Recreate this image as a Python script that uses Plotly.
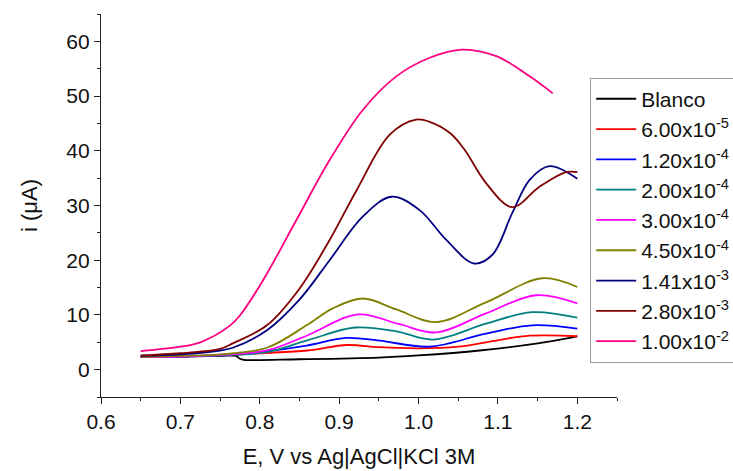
import plotly.graph_objects as go

# Data
names = ["Blanco", "6.00x10<sup>-5</sup>", "1.20x10<sup>-4</sup>", "2.00x10<sup>-4</sup>",
         "3.00x10<sup>-4</sup>", "4.50x10<sup>-4</sup>", "1.41x10<sup>-3</sup>",
         "2.80x10<sup>-3</sup>", "1.00x10<sup>-2</sup>"]
colors = ["#000000", "#FF0000", "#0000FF", "#008080", "#FF00FF", "#808000",
          "#000080", "#800000", "#FF0080"]

x_blanco = [0.65, 0.70, 0.75, 0.77, 0.775, 0.78, 0.85, 0.95, 1.0, 1.077, 1.15, 1.2]
y_blanco = [2.3, 2.4, 2.5, 2.5, 2.0, 1.8, 1.9, 2.2, 2.6, 3.5, 4.8, 6.1]

x_6e5 = [0.65, 0.70, 0.75, 0.80, 0.86, 0.91, 0.95, 1.0, 1.05, 1.085, 1.14, 1.2]
y_6e5 = [2.3, 2.4, 2.6, 3.0, 3.5, 4.5, 4.1, 3.9, 4.2, 5.0, 6.2, 6.1]

x_12e4 = [0.65, 0.70, 0.75, 0.80, 0.859, 0.909, 0.951, 1.014, 1.085, 1.143, 1.2]
y_12e4 = [2.3, 2.4, 2.6, 3.2, 4.4, 5.8, 5.3, 4.2, 6.6, 8.1, 7.5]

x_2e4 = [0.65, 0.70, 0.75, 0.809, 0.859, 0.92, 0.972, 1.018, 1.085, 1.143, 1.2]
y_2e4 = [2.3, 2.4, 2.6, 3.2, 5.3, 7.7, 7.0, 5.5, 8.4, 10.5, 9.5]

x_3e4 = [0.65, 0.70, 0.75, 0.809, 0.859, 0.924, 0.976, 1.022, 1.085, 1.148, 1.2]
y_3e4 = [2.3, 2.4, 2.7, 3.5, 6.2, 10.1, 8.3, 6.8, 10.3, 13.6, 12.1]

x_45e4 = [0.65, 0.70, 0.75, 0.809, 0.859, 0.892, 0.93, 0.972, 1.022, 1.085, 1.156, 1.2]
y_45e4 = [2.3, 2.5, 2.8, 4.0, 8.1, 11.2, 13.0, 11.0, 8.7, 12.3, 16.7, 15.1]

x_141e3 = [0.65, 0.70, 0.75, 0.766, 0.809, 0.85, 0.888, 0.93, 0.966, 1.001, 1.035,
           1.07, 1.093, 1.118, 1.14, 1.165, 1.2]
y_141e3 = [2.5, 2.8, 3.5, 4.0, 7.2, 12.8, 20.0, 28.0, 31.6, 29.2, 23.7,
           19.4, 21.0, 28.6, 34.7, 37.2, 34.9]

x_28e3 = [0.65, 0.70, 0.75, 0.766, 0.809, 0.85, 0.888, 0.922, 0.964, 0.997,
          1.014, 1.04, 1.058, 1.085, 1.118, 1.152, 1.186, 1.2]
y_28e3 = [2.6, 3.0, 3.8, 4.8, 8.1, 14.8, 23.7, 32.8, 43.0, 45.7,
          45.3, 43.2, 40.2, 34.1, 29.7, 33.4, 36.1, 36.1]

x_1e2 = [0.65, 0.70, 0.725, 0.762, 0.775, 0.804, 0.846, 0.888, 0.93, 0.972,
         1.014, 1.055, 1.098, 1.14, 1.169]
y_1e2 = [3.4, 4.2, 5.0, 8.0, 9.9, 16.3, 27.3, 38.3, 47.5, 53.6,
         57.0, 58.5, 57.3, 53.6, 50.5]

xs = [x_blanco, x_6e5, x_12e4, x_2e4, x_3e4, x_45e4, x_141e3, x_28e3, x_1e2]
ys = [y_blanco, y_6e5, y_12e4, y_2e4, y_3e4, y_45e4, y_141e3, y_28e3, y_1e2]

fig = go.Figure()
for n, c, x, y in zip(names, colors, xs, ys):
    fig.add_trace(go.Scatter(x=x, y=y, name=n, mode="lines",
                             line=dict(color=c, width=1.8, shape="spline", smoothing=1.0)))

font = "Liberation Sans, Arial, sans-serif"
fig.update_layout(
    width=733, height=471,
    margin=dict(l=101, r=116, t=14, b=74, autoexpand=False),
    paper_bgcolor="white", plot_bgcolor="white",
    font=dict(family=font, size=21, color="#111"),
    showlegend=True,
    legend=dict(x=0.948, y=0.834, xanchor="left", yanchor="top",
                bordercolor="#999", borderwidth=1, bgcolor="white",
                font=dict(size=21, color="#111"), tracegroupgap=0, itemwidth=40),
    xaxis=dict(range=[0.6, 1.25], dtick=0.1, tick0=0.6, tickformat=".1f",
               showgrid=False, zeroline=False, showline=True, linecolor="#222",
               linewidth=1.3, ticks="outside", ticklen=6, tickcolor="#222",
               minor=dict(ticks="outside", dtick=0.05, ticklen=3, tickcolor="#222"),
               title=dict(text="E, V vs Ag|AgCl|KCl 3M", font=dict(size=22), standoff=16)),
    yaxis=dict(range=[-5, 65], tickvals=[0, 10, 20, 30, 40, 50, 60],
               showgrid=False, zeroline=False, showline=True, linecolor="#222",
               linewidth=1.3, ticks="outside", ticklen=6, tickcolor="#222",
               minor=dict(ticks="outside", dtick=5, tick0=0, ticklen=3, tickcolor="#222"),
               title=dict(text="i (μA)", font=dict(size=22), standoff=22)),
)

fig.write_html("out.html")
